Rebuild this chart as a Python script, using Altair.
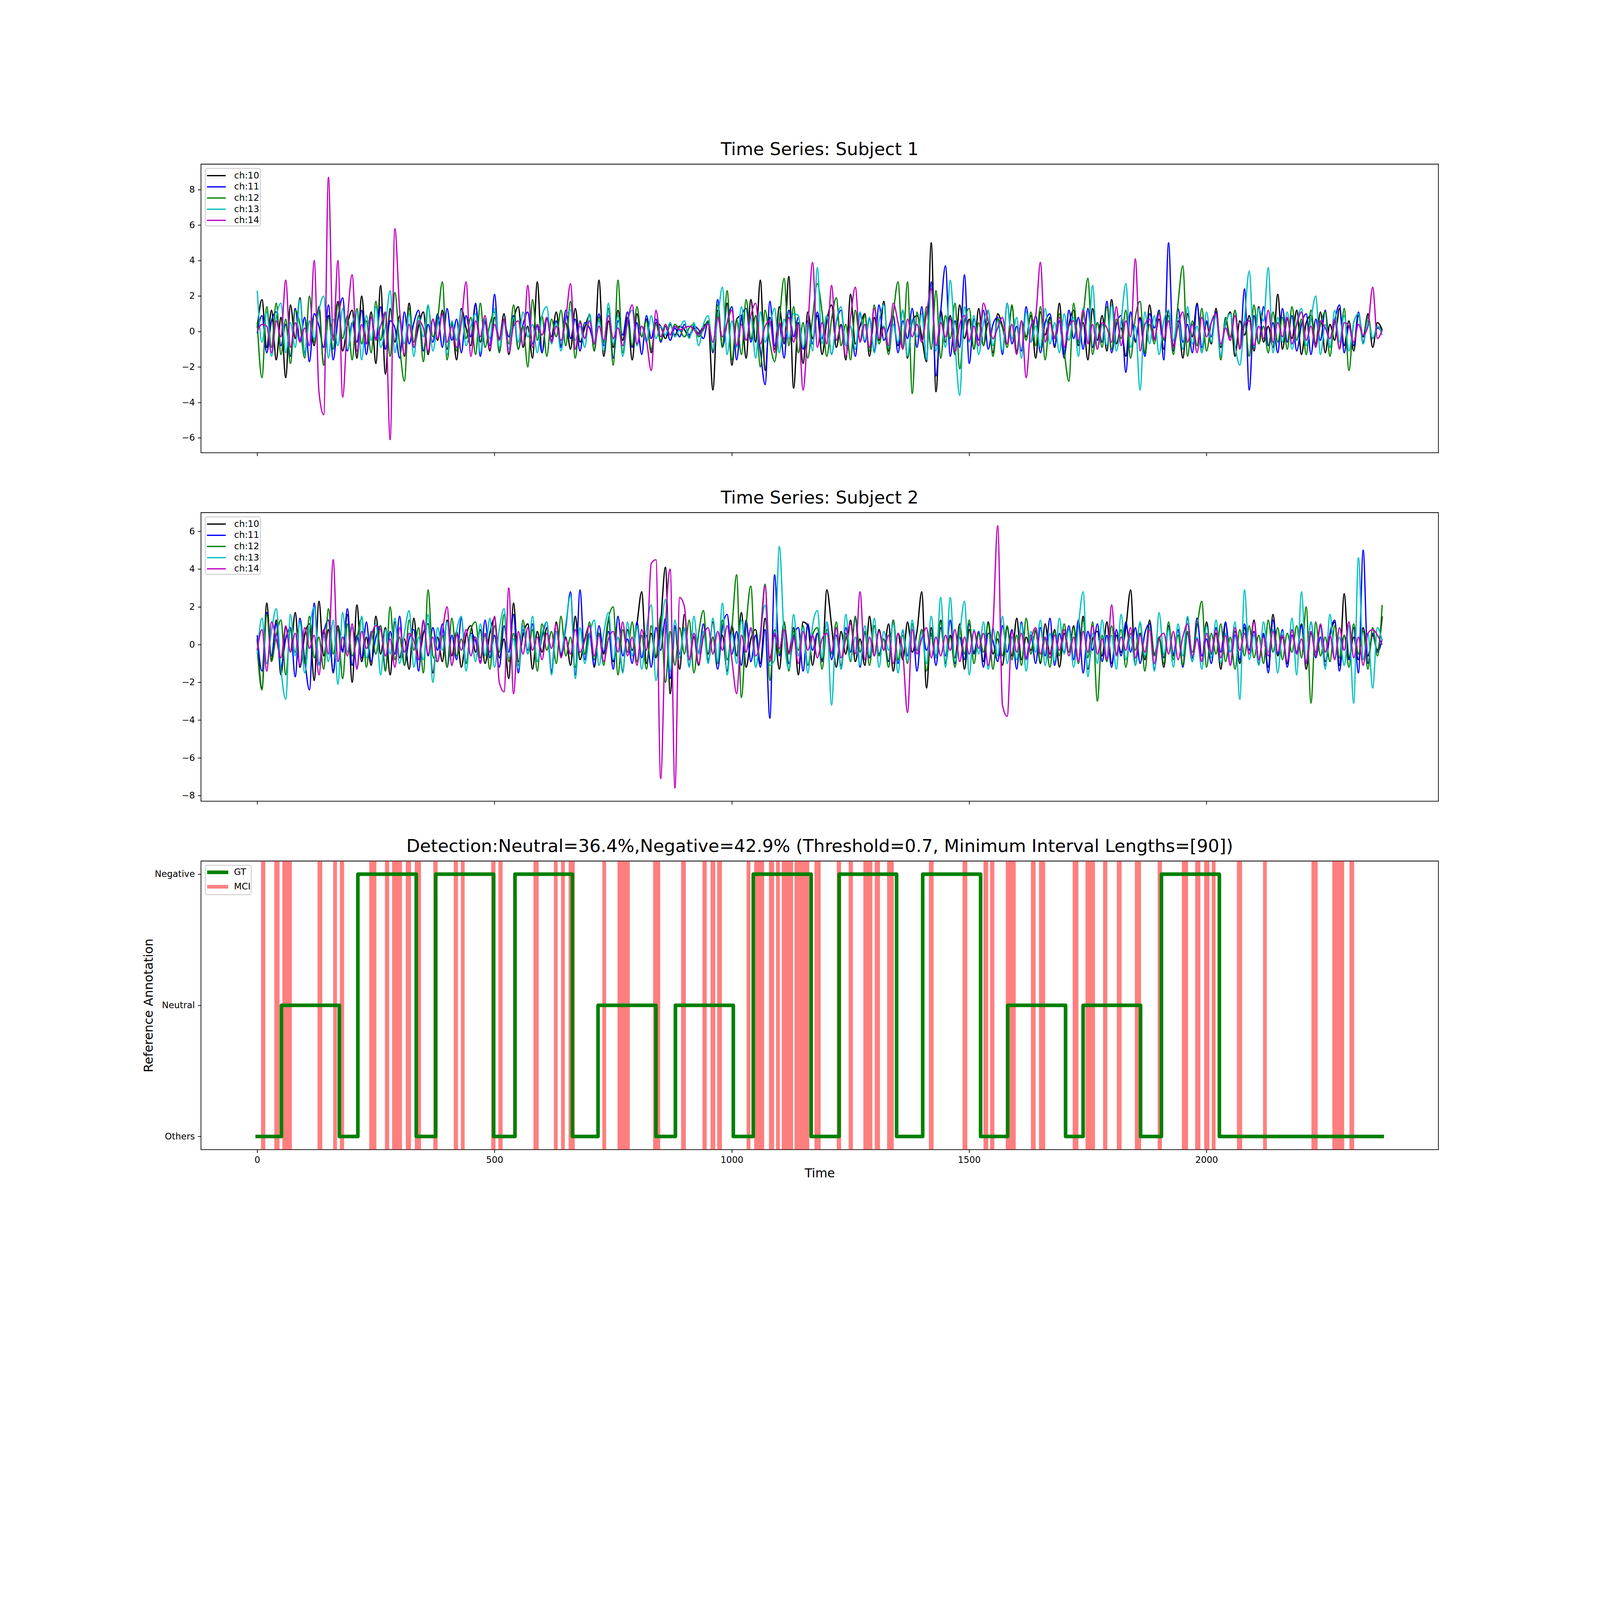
import altair as alt
import pandas as pd

FONT = "DejaVu Sans"

channels = ["ch:10", "ch:11", "ch:12", "ch:13", "ch:14"]
channel_colors = ["#000000", "#0000ff", "#008000", "#00bfbf", "#bf00bf"]
step = 10  # traces every 10 time units

s1_ch10 = [0.2, 1.8, -0.9, 1.2, -1.6, 0.8, -2.6, 1.5, -0.4, 1.9, -1.2, 0.6, -0.8, 1.4, -1.9, 0.9, -0.3, 1.7, -1.1, 0.4, 1.2, -1.5, 2.0, -0.7,
           1.1, -1.8, 2.6, -2.4, 1.3, -0.6, 0.9, -1.4, 1.6, -0.9, 0.3, 1.1, -1.3, 0.7, -0.5, 1.2, -1.0, 0.4, -1.6, 1.3, 0.2, -0.8, 1.5, -0.6,
           0.5, -1.1, 0.8, -0.4, 1.0, -1.3, 0.6, 1.4, -0.9, 0.3, -1.5, 2.8, -1.2, 0.7, -0.3, 1.1, -0.8, 0.5, -1.0, 1.3, -0.6, 0.2, 0.9, -1.1,
           2.9, -1.4, 0.6, -0.9, 1.2, -0.5, 0.8, -1.6, 1.0, -0.3, 0.7, -1.2, 0.5, 0.3, -0.4, 0.4, -0.2, 0.3, 0.1, -0.3, 0.2, -0.1, 0.3, 0.5,
           -3.3, 1.2, -0.8, 1.6, -1.9, 0.7, 0.9, -1.5, 1.8, -0.6, 2.9, -2.2, 0.8, -1.0, 1.4, -0.7, 3.1, -3.2, 0.5, -1.8, 1.1, -0.4, 0.9, -1.3,
           0.6, 1.5, -0.9, 0.4, -1.6, 2.1, -0.7, 0.3, 1.0, -1.4, 0.8, -0.5, 1.7, -1.1, 0.4, -0.8, 1.2, -1.5, 0.6, 0.9, -0.3, -1.7, 5.0, -3.4,
           1.2, -0.6, 0.9, -1.3, 1.5, -0.4, 0.7, -1.0, 1.3, -0.8, 0.5, -1.2, 1.0, 0.3, -0.7, 1.4, -1.1, 0.6, -0.3, 0.9, -1.5, 1.1, -0.2, 0.8,
           -0.9, 1.6, -1.3, 0.4, 1.2, -0.8, 0.5, -1.6, 1.3, -0.5, 0.9, -1.1, 1.8, -0.7, 0.2, -1.4, 1.1, -0.6, 0.8, -1.2, 1.5, -0.4, 0.7, -1.0,
           1.2, -0.8, 0.6, -1.5, 1.0, -0.3, 1.6, -1.2, 0.5, -0.7, 1.3, -0.9, 0.4, 1.1, -1.4, 0.6, -0.2, 0.9, -1.1, 1.4, -0.6, 0.3, -0.9, 2.1,
           -1.0, 0.7, -0.4, 1.2, -1.3, 0.5, 0.9, -0.7, 1.1, -1.2, 0.4, -0.5, 1.3, -0.8, 0.6, -1.1, 0.9, -0.3, 1.0, -0.9, 0.5, 0.1]
s1_ch11 = [-0.1, 0.9, -1.2, 0.6, 1.1, -0.8, 0.4, -1.4, 1.3, -0.5, 0.8, -1.7, 1.0, 0.3, -0.9, 1.5, -1.6, 0.7, 1.9, -1.1, 0.5, -0.6, 1.2, -1.3,
           0.8, -0.4, 1.4, -1.0, 0.6, 0.2, -1.5, 1.1, -0.7, 0.5, 1.2, -1.1, 0.4, -0.6, 1.0, -0.9, 1.3, -0.5, 0.7, -1.2, 0.9, -0.3, 1.6, -1.4,
           0.6, -0.8, 2.1, -1.1, 0.5, -0.3, 0.9, -1.0, 0.4, 1.1, -0.7, 0.3, -1.2, 0.8, -0.5, 0.6, -0.9, 1.2, -0.4, 0.7, -1.1, 0.5, 0.2, -0.6,
           1.0, -0.8, 1.3, -1.5, 0.6, -0.2, 1.1, -0.9, 0.5, -1.3, 0.9, -0.4, 0.7, -0.6, 0.3, -0.5, 0.2, -0.3, 0.4, -0.2, 0.3, 0.1, -0.4, 0.6,
           -1.2, 1.8, -0.9, 0.5, 1.4, -1.6, 0.8, 1.3, -0.6, 0.9, -1.1, -3.0, 1.7, -0.8, 0.4, -1.5, 1.2, -0.3, 0.8, -1.0, 0.6, -0.7, 1.1, -0.4,
           0.9, -1.3, 0.5, 1.2, -0.8, 0.3, -1.4, 1.0, -0.6, 0.7, -1.1, 1.5, -0.5, 0.2, 0.9, -1.2, 0.6, -0.4, 1.3, -0.9, 1.4, -1.6, 2.8, -2.5,
           1.1, 3.7, -1.4, 0.6, -0.9, 3.2, -1.8, 0.7, -0.5, 1.2, -1.0, 0.4, 0.8, -1.3, 1.6, -0.7, 0.3, -1.1, 1.4, -0.6, 0.9, -1.2, 0.5, 1.0,
           -0.8, 0.6, -1.5, 1.2, -0.4, 0.8, -1.0, 1.3, -0.9, 0.5, -0.6, 1.7, -1.2, 0.4, 0.9, -2.3, 1.1, -0.5, 0.7, -1.4, 1.0, 0.2, 1.2, -1.6,
           5.0, -1.1, 1.3, -0.6, 0.4, -1.2, 1.5, -0.9, 0.6, -0.3, 1.1, -1.4, 0.7, -0.5, 1.2, -1.0, 2.4, -3.3, 0.9, -0.7, 1.4, -0.8, 0.5, -1.2,
           1.3, -0.6, 0.9, -1.1, 0.4, 1.0, -1.3, 0.7, -0.5, 1.2, -0.9, 0.6, 1.5, -1.2, 0.3, -0.8, 1.1, -0.6, 0.8, -0.4, 0.2, 0.0]
s1_ch12 = [0.5, -2.6, 1.4, -0.9, 1.6, -1.3, 0.7, -1.8, 1.2, 0.4, -1.5, 2.0, -0.6, 1.1, -1.9, 0.8, -1.0, 1.5, -0.4, 0.9, -1.6, 1.3, -0.7, 0.6,
           -1.2, 1.7, -0.5, 1.0, -1.4, 2.2, -0.8, -2.8, 1.3, -0.6, 0.9, -1.7, 1.4, -0.3, 0.7, 2.8, -1.6, 0.5, -1.1, 1.2, -0.4, 0.8, -1.3, 1.6,
           -0.9, 0.4, 1.1, -1.2, 0.6, -0.7, 1.5, -1.0, 0.3, -2.0, 1.8, -0.5, 0.9, -1.4, 0.7, -0.3, 1.2, -0.8, 1.7, -1.5, 0.6, -0.4, 1.0, -1.1,
           0.8, -0.6, 1.3, -1.9, 2.9, -1.2, 0.5, -0.8, 1.4, -0.3, 0.6, -1.0, 0.4, -0.5, 0.3, -0.2, 0.4, 0.1, -0.3, 0.2, 0.4, -0.3, 0.1, 0.6,
           -1.1, 1.5, -0.9, 2.3, -1.6, 0.7, -1.3, 1.8, -0.4, 0.9, -2.0, 1.2, -0.6, -1.7, 0.6, 3.0, -0.8, 1.4, -1.2, 0.5, -1.5, 0.8, 2.7, 1.1,
           -1.4, 0.7, 1.9, -0.8, 0.4, -1.6, 1.2, -0.5, 0.9, -1.1, 1.5, -0.7, 0.3, -1.3, 1.0, 2.8, -0.9, 2.8, -3.5, 1.1, -0.6, 1.4, -1.0, 2.3,
           -1.5, 0.9, -0.4, 1.6, -2.1, 0.6, 1.3, -1.0, 0.5, -0.8, 1.2, -1.4, 0.7, 0.2, -0.9, 1.5, -1.2, 0.6, -0.5, 1.1, -0.8, 1.4, -1.6, 0.7,
           -0.3, 1.0, -1.1, -2.8, 1.6, -0.6, 0.9, 3.0, -1.3, 0.5, -0.9, 1.4, -1.0, 0.7, -0.4, 1.2, -1.5, 0.8, 1.7, -1.2, 0.4, -0.7, 1.1, -0.5,
           0.9, -1.3, 1.6, 3.7, -1.4, 0.6, -0.8, 1.3, -1.1, 0.5, 1.0, -1.6, 0.8, -0.3, 1.2, -0.9, 0.6, -1.4, 1.5, -0.7, 0.3, -1.2, 1.1, -0.6,
           0.8, -1.0, 1.4, -0.5, 0.7, -1.3, 1.2, -0.8, 0.4, 1.1, -1.4, 0.6, -0.9, 1.3, -2.2, 0.5, 1.0, -0.7, 0.9, -0.4, 0.3, 0.0]
s1_ch13 = [2.3, -0.6, 1.1, -1.4, 0.8, 1.6, -1.2, 0.5, -0.9, 1.8, -1.3, 0.6, -0.4, 1.2, 2.0, -1.5, 0.7, -0.8, 1.3, -1.0, 0.4, 1.1, -1.6, 0.9,
           -0.5, 1.4, -0.9, 0.3, 2.3, -1.2, 0.6, -0.7, 1.0, -1.4, 0.8, -0.3, 1.5, -1.1, 0.4, 0.9, -1.3, 0.6, -0.5, 1.2, -0.8, 0.3, 1.0, -1.2,
           0.7, -0.4, 1.3, -0.9, 0.5, -1.0, 0.8, -0.6, 1.1, -0.3, 0.4, -1.2, 0.9, 1.4, -0.7, 0.5, -1.1, 0.8, 1.2, -0.5, 0.3, -0.9, 1.0, -0.6,
           0.6, -1.1, 1.6, -0.7, 0.9, -1.4, 0.5, 1.2, -0.8, 0.3, -0.6, 0.9, -0.4, 0.3, -0.2, 0.5, -0.3, 0.2, 0.6, -0.4, 0.5, -0.8, 0.4, 0.9,
           -1.0, 0.7, 2.5, -1.3, 0.6, -0.9, 1.4, -0.5, 0.8, -1.5, 1.1, -0.6, 0.4, 1.3, -1.2, 0.7, -0.4, 1.0, 0.9, -0.9, 0.5, -1.1, 3.6, -0.7,
           0.9, -1.3, 0.6, 1.4, -0.8, 0.3, -1.0, 1.1, -0.5, 0.8, -1.2, 0.6, 1.5, -0.9, 0.4, -0.6, 1.2, -1.4, 0.7, -0.3, 1.0, -1.6, 2.4, -1.1,
           0.8, -0.9, 2.9, -0.7, -3.6, 1.4, -0.6, 0.9, -1.3, 0.5, 1.2, -0.8, 0.6, -1.1, 1.6, -0.4, 0.8, -1.5, 1.1, -0.6, 0.3, -0.9, 1.3, -0.7,
           0.5, -1.2, 1.0, -0.5, 0.8, -1.4, 1.3, -0.6, 2.6, -1.0, 0.4, -0.8, 1.5, -1.1, 0.6, 2.7, -0.9, 0.3, -3.3, 1.1, -0.7, 0.9, -1.3, 0.6,
           1.2, -0.5, 0.8, -1.0, 1.4, -0.7, 0.3, -1.2, 1.1, -0.6, 0.9, -1.4, 0.5, 1.0, -0.8, -1.9, 0.7, 3.4, -0.9, 1.3, 0.6, 3.6, -1.2, 0.8,
           -0.6, 1.1, -1.0, 0.5, 1.3, -0.8, 0.7, 2.0, -1.3, 0.4, -0.9, 1.2, -0.6, 0.9, -1.1, 0.5, 1.0, -0.7, 0.6, -0.4, 0.3, -0.2]
s1_ch14 = [0.0, 0.4, 0.3, -1.2, 0.6, -0.3, 2.9, -0.9, 0.5, -0.6, 0.2, -0.8, 4.0, -3.4, -4.7, 8.7, -0.5, 4.0, -3.7, 0.6, 3.2, -1.1, 0.4, -0.7,
           0.8, -0.5, 0.3, 1.1, -6.1, 5.8, 1.2, -1.3, 0.4, -0.9, 0.6, 0.2, -1.1, 0.7, -0.4, 1.0, -0.6, 0.3, -0.9, 0.5, 2.8, -1.4, 0.6, -0.3,
           0.9, -1.0, 0.4, -0.5, 0.7, -1.2, 0.3, 0.6, -0.8, 2.6, -0.9, 0.4, -0.2, 0.8, -0.6, 0.3, -0.5, 0.7, 2.7, -1.0, 0.5, -0.4, 0.6, -0.7,
           0.3, -0.5, 0.9, -0.4, 0.2, -0.8, 0.6, 1.5, -0.7, 0.3, -0.5, -2.2, 1.2, -0.3, 0.4, -0.2, 0.3, 0.1, 0.2, 0.3, 0.1, -0.2, 0.2, 0.4,
           -0.6, 0.8, -0.3, 0.5, 1.2, -0.8, 0.4, -0.5, 0.9, 1.6, -0.7, 0.3, 0.6, -1.2, 0.5, -0.4, 0.8, -0.6, 0.4, -3.3, 0.2, 3.9, -0.9, 0.5,
           -0.7, 2.6, -0.5, 0.3, -1.4, 0.8, 2.5, -0.6, 0.4, -0.9, 1.3, -0.4, 0.2, -0.8, 1.6, 0.5, -1.0, 0.7, -0.3, 0.4, -0.6, 1.0, 2.4, -0.8,
           0.5, -0.3, 0.7, -1.1, 0.4, 0.9, -0.5, 0.3, -0.8, 1.6, 0.6, -0.4, 0.2, 0.8, -0.7, 0.4, -1.3, 0.6, -2.6, 0.3, 0.9, 3.9, -0.6, 0.5,
           -0.4, 0.8, -0.9, 0.3, 0.6, -0.5, 1.2, -0.7, 0.4, -1.0, 0.5, 0.2, -0.6, 1.4, -0.8, 0.6, -0.3, 4.1, -1.1, 0.4, 0.7, -0.5, 1.0, -0.4,
           0.6, -0.9, 0.3, 1.1, -0.6, 0.4, -1.2, 0.8, -0.3, 0.5, 1.0, -0.7, 0.2, -0.5, 0.9, -1.0, 0.4, 0.6, -0.8, 0.3, -0.4, 1.2, -0.6, 0.5,
           -0.3, 0.8, -0.7, 0.4, 1.1, -0.5, 0.3, -0.9, 0.6, 0.2, -0.4, 0.7, -1.0, 0.5, 0.3, -0.6, 0.4, -0.2, 0.3, 2.5, -0.4, 0.1]

s2_ch10 = [0.3, -2.3, 2.2, -0.8, 1.3, -1.6, 0.9, -0.4, 1.7, -1.2, 0.5, 1.1, -1.9, 2.3, -0.6, 0.8, -1.4, 1.0, -0.3, 1.6, -2.0, 2.1, -0.9, 0.4,
           -1.1, 1.5, -0.5, 0.9, -1.6, 1.2, -0.7, 0.3, -1.3, 1.4, -0.8, 0.6, 1.1, -1.5, 0.4, -0.9, 1.3, -0.6, 0.7, -1.2, 0.5, 1.0, -0.4, 0.8,
           -1.0, 0.6, 1.4, -0.7, 0.3, -1.8, 2.2, -0.9, 0.5, 1.1, -1.3, 0.7, -0.4, 0.9, -1.5, 1.2, -0.6, 0.4, -1.1, 1.5, -0.8, 0.3, 1.0, -1.2,
           0.6, -0.5, 1.3, -0.9, 0.4, -1.4, 0.8, -0.3, 1.1, 2.8, -1.0, 0.6, -0.7, 1.2, 4.1, -2.6, 0.9, -1.3, 1.6, -0.8, 0.4, -1.1, 0.7, -0.5,
           1.2, -0.9, 0.5, -1.4, 1.0, -0.6, 1.7, -1.2, 0.3, 0.8, -1.0, 1.4, -0.7, 0.5, -1.3, 1.1, -0.4, 0.9, -1.6, 1.2, 1.0, -1.1, 0.6, -0.8,
           2.9, 1.0, -1.2, 0.7, -0.5, 1.3, -0.9, 0.3, -1.1, 1.5, -0.6, 0.8, -0.3, 1.1, -1.4, 0.6, -0.8, 1.2, -0.4, 0.7, 2.8, -2.3, 0.9, -0.6,
           1.3, -1.0, 0.5, -0.7, 1.1, -1.3, 0.8, -0.4, 0.6, -0.9, 1.2, -0.5, 0.3, -1.1, 0.9, -0.6, 1.4, -0.8, 0.4, -0.3, 0.7, -1.0, 1.1, -0.5,
           0.8, -1.2, 0.6, -0.4, 1.0, -0.9, 1.5, -1.3, 0.3, 0.7, -0.6, 1.2, -1.0, 0.5, -0.4, 0.9, 2.9, -1.1, 0.6, -0.8, 1.3, -0.5, 0.4, -1.2,
           1.0, -0.6, 0.8, -1.1, 1.4, -0.7, 0.3, -0.9, 1.2, -0.5, 0.6, -1.3, 1.1, -0.4, 0.7, -1.0, 0.9, -0.3, 1.3, -0.8, 0.5, -1.2, 1.6, -0.6,
           0.4, -1.0, 0.8, -0.5, 1.1, -1.3, 0.6, -0.4, 1.0, -0.9, 0.5, 1.2, -1.1, 2.7, -0.7, 0.4, -0.8, 0.9, -0.6, 0.5, -0.3, 1.5]
s2_ch11 = [0.5, -1.4, 1.7, -0.6, 1.1, -1.2, 0.3, 0.9, -1.7, 1.4, -0.8, -2.4, 2.2, -1.0, 0.6, 1.3, -1.5, 0.8, -0.4, 1.9, -1.1, 0.5, -0.7, 1.2,
           -0.9, 0.4, 1.0, -1.3, 0.7, -0.5, 1.5, -1.1, 0.3, 0.8, -1.4, 1.2, -0.6, 0.9, -0.3, 1.1, -1.2, 0.5, -0.8, 1.4, -1.0, 0.6, 0.2, -0.9,
           1.3, -0.7, 0.5, -1.2, 1.0, -0.4, 1.6, -1.5, 0.8, -0.3, 1.1, -0.9, 0.4, 1.2, -1.4, 0.7, -0.5, 0.9, 2.8, -1.6, 2.9, -0.8, 0.6, -1.1,
           1.0, -0.4, 0.7, -1.3, 1.5, -0.6, 0.3, -1.0, 1.2, -0.7, 0.5, -1.2, 0.9, -0.3, 1.4, -1.8, 1.0, -0.5, 0.8, -1.1, 0.6, -0.4, 1.1, -0.8,
           0.4, -1.3, 0.9, 1.6, -0.5, 0.7, -1.1, 1.3, -0.9, 0.5, -1.2, 0.8, -3.9, 3.7, -0.6, 1.2, -1.0, 0.4, 0.9, -1.4, 1.1, -0.3, 0.6, -0.9,
           1.2, -0.8, 0.5, -1.1, 0.9, -0.4, 1.4, -1.2, 0.6, -0.7, 1.0, -0.5, 0.3, -0.9, 1.3, -1.0, 0.7, -0.6, 1.1, -1.4, 0.8, -0.3, 0.5, -1.1,
           0.9, -0.6, 1.3, -1.0, 0.4, -0.8, 1.1, -0.5, 0.7, -1.2, 0.6, 0.2, -0.9, 1.0, -0.4, 0.8, -1.3, 1.2, -0.7, 0.5, -1.0, 0.9, -0.6, 1.4,
           -1.1, 0.6, -0.4, 1.0, -0.8, 1.3, -1.5, 0.7, -0.3, 1.1, -0.9, 0.5, -1.2, 0.8, -0.6, 1.2, -0.4, 0.9, -1.0, 0.6, 1.1, -1.3, 0.4, -0.7,
           1.0, -0.5, 0.8, -1.2, 0.6, -0.9, 1.4, -0.6, 0.3, -1.0, 0.9, -0.4, 1.2, -1.1, 0.5, -0.8, 1.1, -0.3, 0.7, -1.0, 0.6, -1.5, 1.3, -0.5,
           0.8, -1.2, 0.5, -0.4, 1.0, -0.9, 1.2, -0.7, 0.4, -1.1, 0.6, 1.3, -1.4, 0.5, -0.8, 0.9, -1.5, 5.0, -1.0, 0.6, -0.4, 0.3]
s2_ch12 = [-0.2, -2.4, 1.6, -0.9, 0.5, 1.3, -1.6, 0.8, -0.4, 1.2, -1.0, 1.5, -0.7, 0.4, -1.3, 1.9, -0.5, 0.8, -1.8, 1.1, -0.6, 0.3, 1.4, -1.2,
           0.7, -0.5, 1.0, -1.4, 2.0, -0.8, 0.4, -1.1, 1.3, -0.3, 0.9, -1.5, 2.9, -0.6, -0.9, 0.5, -1.2, 1.4, -0.6, 0.3, -1.0, 0.8, 1.2, -0.7,
           0.5, -1.3, 1.0, -0.4, 1.6, -0.9, 0.6, -1.1, 1.3, -0.5, 0.8, -1.4, 1.1, -0.3, 0.7, -1.0, 1.5, -0.6, 0.4, -1.2, 0.9, -0.5, 1.2, -0.8,
           0.6, -1.1, 1.4, 2.0, -1.6, 0.8, -0.4, 1.2, -0.9, 0.5, -1.3, 1.0, -0.6, 1.5, -2.0, 0.7, -1.1, 0.9, -0.5, 1.3, -1.5, 0.6, 1.8, -0.9,
           0.4, -1.0, 1.3, -0.8, 0.9, 3.7, -2.8, 1.0, 3.1, -1.2, 0.6, 3.2, -1.9, 0.8, -0.5, 1.2, -1.4, 0.7, -0.3, 1.0, -1.1, 0.5, 0.9, -1.3,
           0.8, -0.5, 1.2, -1.3, 0.6, -0.9, 1.5, -0.4, 0.7, -1.1, 1.0, -0.6, 0.3, -1.2, 1.3, -0.8, 0.5, -1.0, 1.1, -0.3, 0.8, -1.4, 0.6, -0.7,
           1.2, -0.9, 0.4, -1.2, 0.9, -0.5, 1.3, -1.0, 0.6, -0.4, 1.1, -1.3, 0.7, -0.6, 1.0, -0.8, 0.5, -1.1, 1.4, -0.5, 0.8, -0.9, 0.3, -1.2,
           0.7, -0.6, 1.1, -0.4, 0.9, -1.0, 1.3, -0.7, 1.2, -3.0, 0.5, -0.9, 1.0, -0.5, 0.8, -1.2, 0.6, -0.3, 1.1, -1.4, 0.9, -0.6, 0.4, -1.0,
           1.2, -0.8, 0.5, -1.1, 0.7, -0.4, 1.0, 2.3, -1.2, 0.6, -0.5, 1.1, -0.9, 0.4, -1.3, 0.8, -0.6, 1.0, -0.7, 0.5, -1.0, 1.3, -0.4, 0.9,
           -0.8, 0.6, -0.4, 1.0, -0.7, 2.0, -3.1, 1.2, -0.6, 0.4, -0.9, 1.0, -0.7, 0.5, -1.2, 1.1, -0.5, 0.7, -1.3, 0.9, -0.6, 2.1]
s2_ch13 = [-0.5, 1.4, -1.0, 0.7, 1.9, -1.3, -2.9, 1.6, -0.6, 1.2, -1.5, 0.8, 2.0, -1.1, 0.5, -0.9, 1.3, -2.1, 1.7, -0.4, 0.9, -1.2, 1.5, -0.7,
           0.3, 1.1, -1.6, 0.8, -0.5, 1.4, -1.0, 0.6, 1.8, -1.2, 0.4, -0.8, 1.6, -2.0, 0.9, -0.3, 1.2, -1.1, 0.7, 1.5, -1.4, 0.5, -0.9, 1.1,
           -0.6, 1.4, -1.2, 0.8, 1.9, -0.7, 0.3, -1.3, 1.0, -0.5, 1.5, -0.9, 0.6, 1.2, -1.6, 0.7, -0.4, 1.1, 2.6, -1.8, 0.9, -1.0, 0.5, 1.3,
           -1.1, 0.6, 1.7, -0.8, 0.4, -1.5, 1.2, -0.6, 1.0, -1.3, 0.8, 2.1, -1.9, 0.5, 2.4, -1.4, 1.3, -0.7, 0.9, -1.2, 1.5, -0.5, 0.7, -1.0,
           1.4, -0.9, 2.2, -1.6, 0.6, -1.0, 1.3, -0.4, 0.8, -1.2, 0.7, 2.1, -1.1, -0.8, 5.2, 0.4, -1.3, 1.6, -0.6, 0.9, -1.5, 1.0, 1.8, -0.7,
           1.2, -3.2, 0.9, -1.3, 1.6, -0.8, 0.4, -1.1, 1.0, -0.6, 1.4, -1.2, 0.7, -0.3, 1.1, -1.5, 0.8, -0.9, 1.3, -0.5, 0.6, -1.0, 1.5, -0.7,
           2.5, -1.2, 2.5, -0.9, 0.6, 2.3, -1.6, 0.8, -0.5, 1.2, -1.3, 0.9, -0.6, 1.5, -1.0, 0.4, -0.8, 1.1, -1.4, 0.7, -0.4, 1.3, -1.1, 0.6,
           -0.9, 1.4, -0.5, 0.8, -1.2, 1.0, 2.8, -1.7, 0.6, -1.0, 1.3, -0.7, 0.5, -1.3, 1.6, -0.8, 0.4, -1.1, 1.2, -0.6, 0.9, -1.4, 1.7, -0.5,
           0.8, -1.2, 1.1, -0.6, 1.5, -0.9, 0.4, -1.3, 1.0, -0.7, 1.3, -1.0, 0.6, -0.4, 1.2, -2.9, 2.9, -0.8, 0.5, -1.1, 1.2, -0.4, 0.8, -1.5,
           0.7, -0.9, 1.4, -1.6, 2.8, -1.0, 1.2, -0.5, 0.9, -1.3, 1.6, -0.7, 0.4, -1.1, 1.0, -3.1, 4.6, -0.8, 0.6, -2.3, 0.9, 0.2]
s2_ch14 = [-0.3, 0.8, -1.4, 1.2, 0.3, -0.7, 1.0, -0.4, 0.6, -1.1, 0.9, -0.2, 0.5, -1.6, 0.8, -0.5, 4.5, -0.9, 0.4, -0.6, 1.1, -1.3, 0.7, -0.2,
           0.5, 1.0, 0.8, -0.6, 0.3, -1.2, 0.9, -0.4, 0.6, 0.2, -0.8, 1.3, -0.5, 0.4, -0.9, 0.7, 2.0, -1.1, 0.5, -0.3, 0.8, -0.6, 0.4, -1.0,
           0.6, -0.4, 1.5, -2.0, -2.5, 3.0, -2.6, 0.7, -0.5, 0.9, -0.3, 0.4, -0.8, 0.6, -0.2, 1.1, -0.7, 0.3, -0.5, 0.8, -0.4, 0.2, 1.0, -0.6,
           0.5, -0.9, 0.3, 0.7, -0.4, 1.2, -0.6, 0.4, -1.1, 0.8, -0.3, 4.3, 4.5, -7.1, 0.8, 4.0, -7.6, 2.5, 2.0, -0.8, 0.6, -1.0, 0.4, 0.9,
           -0.5, 0.7, -0.3, 1.0, -0.8, -2.6, 0.5, -0.4, 0.9, -0.6, 0.3, 3.1, -0.9, 0.6, -0.2, 0.8, -0.5, 0.4, -1.0, 0.7, -0.3, 0.5, -0.7, 0.3,
           0.6, -0.4, 0.9, -0.7, 0.3, 1.1, -0.5, 2.8, -0.8, 0.4, -0.6, 0.7, -0.3, 0.5, -1.0, 0.6, -0.4, -3.6, 0.8, -0.5, 0.3, 0.9, -0.7, 0.4,
           -0.6, 0.5, -0.3, 0.8, -0.9, 0.4, -0.5, 0.7, -0.2, 0.6, -1.1, 0.9, 6.3, -3.2, -3.8, 0.7, -0.4, 0.6, -0.8, 0.3, 0.9, -0.5, 0.4, -0.7,
           0.5, -0.3, 0.8, -0.6, 0.4, -0.9, 0.7, -0.4, 1.0, -0.5, 0.3, -0.8, 2.1, -0.6, 0.4, -0.3, 0.9, -0.7, 0.5, -0.4, 0.8, -1.0, 0.3, 0.6,
           -0.5, 0.7, -0.8, 0.4, 1.1, -0.6, 0.3, -0.9, 0.6, -0.4, 0.8, -0.7, 0.5, -1.1, 0.9, -0.3, 0.6, -0.5, 1.2, -0.8, 0.4, -0.6, 0.7, -0.4,
           0.5, -0.9, 0.8, -0.5, 0.3, -1.0, 0.7, -0.6, 1.1, -0.4, 0.5, -0.8, 0.9, -0.3, 1.2, -0.7, 0.4, -1.1, 0.6, 0.8, 0.5, 0.0]

gt_change = [0, 51, 173, 212, 335, 376, 498, 543, 664, 718, 840, 881, 1003, 1045, 1167, 1226, 1347, 1402, 1524, 1581, 1703, 1740, 1861, 1905, 2027, 2370]
gt_level = [0, 1, 0, 2, 0, 2, 0, 2, 0, 1, 0, 1, 0, 2, 0, 2, 0, 2, 0, 1, 0, 1, 0, 2, 0, 0]
mci_start = [8, 36, 53, 127, 160, 174, 236, 269, 284, 313, 332, 371, 414, 429, 493, 508, 582, 625, 640, 656,
             727, 759, 834, 893, 938, 955, 969, 1031, 1047, 1078, 1093, 1105, 1132, 1174, 1221, 1246, 1277, 1301, 1327, 1415,
             1486, 1530, 1544, 1577, 1630, 1647, 1718, 1745, 1782, 1811, 1849, 1897, 1948, 1976, 1995, 2011, 2064, 2119, 2221, 2265, 2301]
mci_end = [17, 47, 73, 137, 168, 183, 251, 278, 305, 324, 345, 380, 423, 437, 502, 517, 593, 633, 648, 669,
           735, 785, 849, 903, 947, 965, 979, 1039, 1068, 1089, 1101, 1129, 1163, 1187, 1230, 1255, 1296, 1312, 1341, 1425,
           1496, 1540, 1553, 1598, 1640, 1660, 1730, 1765, 1791, 1821, 1862, 1906, 1961, 1987, 2006, 2019, 2075, 2127, 2234, 2290, 2311]

W, H = 5810, 1355
t_last = 2370
x_dom = [-0.05 * t_last, 1.05 * t_last]
x_ticks = [0, 500, 1000, 1500, 2000]
x_scale = alt.Scale(domain=x_dom, nice=False, zero=False)

legend_box = dict(title=None, orient="top-left", offset=20, strokeColor="#cccccc",
                  fillColor="rgba(255,255,255,0.8)", cornerRadius=8,
                  labelFont=FONT, labelFontSize=42, labelColor="black", labelLimit=1000)


def series_panel(traces, title, y_ticks):
    rows = []
    for name, vals in zip(channels, traces):
        for i, v in enumerate(vals):
            rows.append({"time": i * step, "value": v, "channel": name})
    df = pd.DataFrame(rows)
    lo, hi = df["value"].min(), df["value"].max()
    pad = 0.05 * (hi - lo)
    return alt.Chart(df, title=title).mark_line(
        strokeWidth=6, interpolate="monotone", clip=True
    ).encode(
        x=alt.X("time:Q", scale=x_scale, axis=alt.Axis(values=x_ticks, labels=False, title=None)),
        y=alt.Y("value:Q", scale=alt.Scale(domain=[lo - pad, hi + pad], nice=False, zero=False),
                axis=alt.Axis(values=y_ticks, format="d", title=None)),
        color=alt.Color("channel:N",
                        scale=alt.Scale(domain=channels, range=channel_colors),
                        legend=alt.Legend(symbolType="M-1,0H2.4", symbolSize=2704, symbolStrokeWidth=6,
                                          labelOffset=73, rowPadding=2.5, padding=5, **legend_box)),
    ).properties(width=W, height=H)


p1 = series_panel([s1_ch10, s1_ch11, s1_ch12, s1_ch13, s1_ch14], "Time Series: Subject 1", [-6, -4, -2, 0, 2, 4, 6, 8])
p2 = series_panel([s2_ch10, s2_ch11, s2_ch12, s2_ch13, s2_ch14], "Time Series: Subject 2", [-8, -6, -4, -2, 0, 2, 4, 6])

y3_dom = [-0.1, 2.1]
y3_axis = alt.Axis(values=[0, 1, 2], title="Reference Annotation", titlePadding=15,
                   labelExpr="datum.value == 0 ? 'Others' : datum.value == 1 ? 'Neutral' : 'Negative'")
x3_axis = alt.Axis(values=x_ticks, format="d", title="Time", titlePadding=13)
y3_scale = alt.Scale(domain=y3_dom, nice=False, zero=False)

mci_df = pd.DataFrame({"start": mci_start, "end": mci_end})
gt_df = pd.DataFrame({"time": gt_change, "level": gt_level, "kind": "GT"})

spans = alt.Chart(mci_df).mark_rect(color="#ff0000", opacity=0.5).encode(
    x=alt.X("start:Q", scale=x_scale, axis=x3_axis),
    x2="end:Q",
    y=alt.Y(datum=y3_dom[0], type="quantitative", scale=y3_scale, axis=y3_axis),
    y2=alt.datum(y3_dom[1]),
)

gt_line = alt.Chart(gt_df).mark_line(
    strokeWidth=17, interpolate="step-after", strokeJoin="round", strokeCap="square", clip=True
).encode(
    x=alt.X("time:Q", scale=x_scale, axis=x3_axis),
    y=alt.Y("level:Q", scale=y3_scale, axis=y3_axis),
    color=alt.Color("kind:N", scale=alt.Scale(domain=["GT", "MCI"], range=["#008000", "#ff8080"]),
                    legend=alt.Legend(symbolType="M-1.12,0H3.49", symbolSize=1849, symbolStrokeWidth=17,
                                      labelOffset=72, rowPadding=0, padding=3, **legend_box)),
)

p3 = alt.layer(
    spans, gt_line,
    title="Detection:Neutral=36.4%,Negative=42.9% (Threshold=0.7, Minimum Interval Lengths=[90])",
).properties(width=W, height=H)

# the page adds blank space above the panels in proportion to its height;
# the negative top padding takes that space back out
chart = alt.vconcat(
    p1, p2, p3, spacing=152,
    padding={"left": 654, "top": -1128, "right": 742, "bottom": 502},
).resolve_scale(
    x="independent", y="independent", color="independent"
).configure_axis(
    labelFont=FONT, labelFontSize=42, labelColor="black", labelPadding=14, labelLimit=1000,
    tickColor="black", tickWidth=3.3, tickSize=15,
    domain=False, grid=False,
    titleFont=FONT, titleFontSize=58, titleFontWeight="normal", titleColor="black",
).configure_view(
    stroke="black", strokeWidth=3.3
).configure_title(
    font=FONT, fontSize=83, fontWeight="normal", color="black",
    anchor="middle", offset=25, baseline="alphabetic",
).configure_legend(
    strokeWidth=4
)

chart.save("out.html", embed_options={"renderer": "svg", "actions": False})
